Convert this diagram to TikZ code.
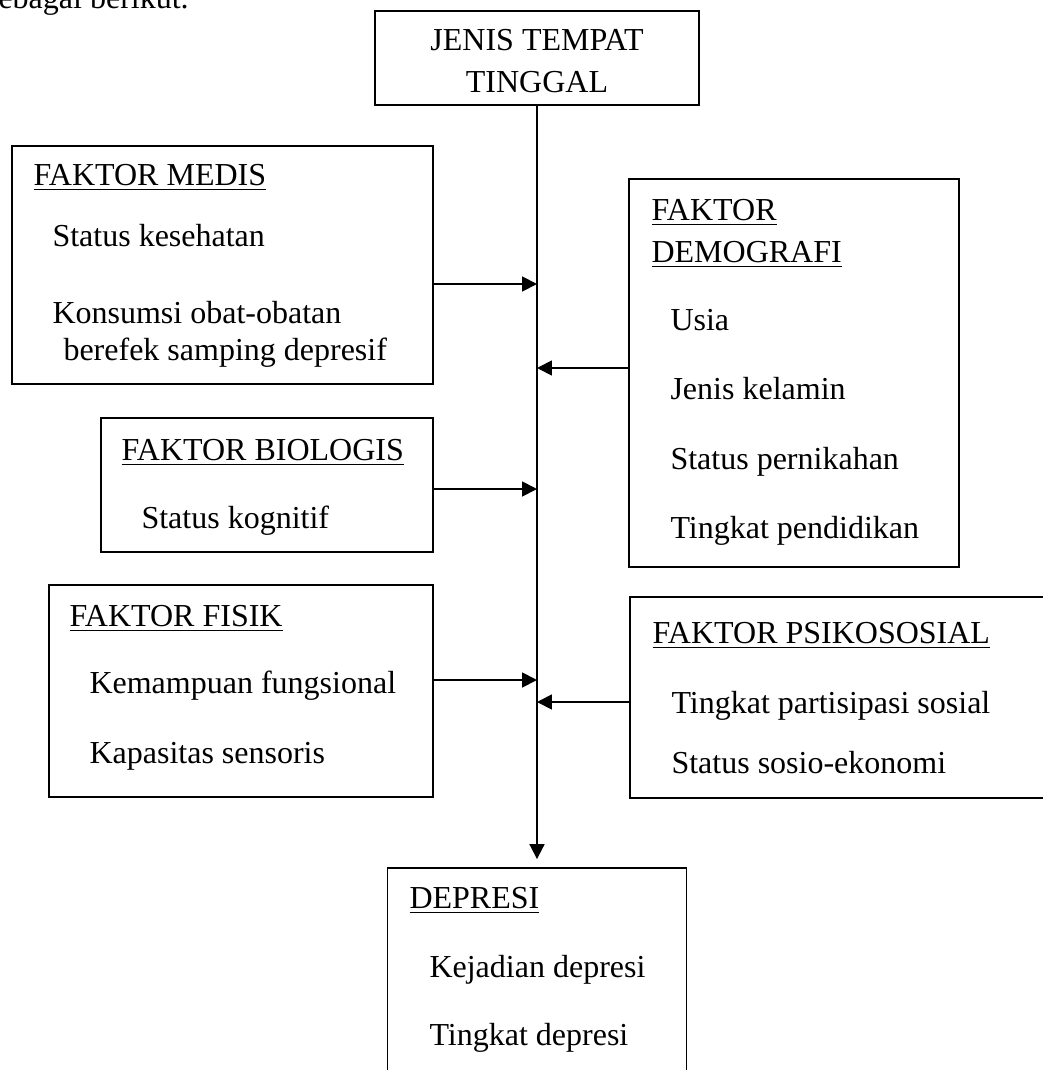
\documentclass[tikz,border=0pt]{standalone}
\usepackage{fontspec}
\setmainfont{Liberation Serif}
\usetikzlibrary{arrows.meta}

\begin{document}
\begin{tikzpicture}[x=0.375pt, y=-0.375pt,
        font=\fontsize{12pt}{14pt}\selectfont,
        box/.style={draw, line width=0.7pt, inner sep=0pt},
        txt/.style={anchor=base west, inner sep=0pt},
        arr/.style={line width=0.7pt, -{Triangle[length=5.6pt,width=5.6pt]}}]
             \useasboundingbox (0,0) rectangle (1043,1070);
             \clip (0,0) rectangle (1043,1070);
             \node[txt] (intro) at (-2,9) {ebagai berikut.};
             % kotak
             \node[box, minimum width=121.5pt, minimum height=35.25pt] (tinggal) at (537,58) {};
             \node[box, minimum width=157.875pt, minimum height=89.25pt] (medis) at (222.5,265) {};
             \node[box, minimum width=123.75pt, minimum height=145.5pt] (demografi) at (794,373) {};
             \node[box, minimum width=124.5pt, minimum height=50.25pt] (biologis) at (267,485) {};
             \node[box, minimum width=144pt, minimum height=79.5pt] (fisik) at (241,691) {};
             \node[box, minimum width=161.25pt, minimum height=75.375pt] (psikososial) at (845,697.5) {};
             \node[box, minimum width=112.125pt, minimum height=83.25pt] (depresi) at (537,979) {};
             % teks
             \node[anchor=base, inner sep=0pt] (tinggal-1) at (537,51) {JENIS TEMPAT};
             \node[anchor=base, inner sep=0pt] (tinggal-2) at (537,93) {TINGGAL};
             \node[txt] (medis-t) at (33,185) {\underline{FAKTOR MEDIS}};
             \node[txt] (medis-1) at (52,246) {Status kesehatan};
             \node[txt] (medis-2) at (52,323) {Konsumsi obat-obatan};
             \node[txt] (medis-3) at (63,360) {berefek samping depresif};
             \node[txt] (demografi-t) at (651,220) {\underline{FAKTOR}};
             \node[txt] (demografi-u) at (651,262) {\underline{DEMOGRAFI}};
             \node[txt] (demografi-1) at (670,330) {Usia};
             \node[txt] (demografi-2) at (670,399) {Jenis kelamin};
             \node[txt] (demografi-3) at (670,469) {Status pernikahan};
             \node[txt] (demografi-4) at (670,538) {Tingkat pendidikan};
             \node[txt] (biologis-t) at (121,460) {\underline{FAKTOR BIOLOGIS}};
             \node[txt] (biologis-1) at (141,528) {Status kognitif};
             \node[txt] (fisik-t) at (69,626) {\underline{FAKTOR FISIK}};
             \node[txt] (fisik-1) at (89,693) {Kemampuan fungsional};
             \node[txt] (fisik-2) at (89,763) {Kapasitas sensoris};
             \node[txt] (psikososial-t) at (652,643) {\underline{FAKTOR PSIKOSOSIAL}};
             \node[txt] (psikososial-1) at (671,713) {Tingkat partisipasi sosial};
             \node[txt] (psikososial-2) at (671,773) {Status sosio-ekonomi};
             \node[txt] (depresi-t) at (409,908) {\underline{DEPRESI}};
             \node[txt] (depresi-1) at (429,977) {Kejadian depresi};
             \node[txt] (depresi-2) at (429,1045) {Tingkat depresi};
             % panah
             \coordinate (medis-in) at (537,284);
             \coordinate (demografi-in) at (537,368);
             \coordinate (biologis-in) at (537,489);
             \coordinate (fisik-in) at (537,680);
             \coordinate (psikososial-in) at (537,702);
             \draw[arr, shorten >=3pt] (tinggal.south) -- (depresi.north);
             \draw[arr] (medis.east |- medis-in) -- (medis-in);
             \draw[arr] (demografi.west |- demografi-in) -- (demografi-in);
             \draw[arr] (biologis.east |- biologis-in) -- (biologis-in);
             \draw[arr] (fisik.east |- fisik-in) -- (fisik-in);
             \draw[arr] (psikososial.west |- psikososial-in) -- (psikososial-in);
\end{tikzpicture}
\end{document}
